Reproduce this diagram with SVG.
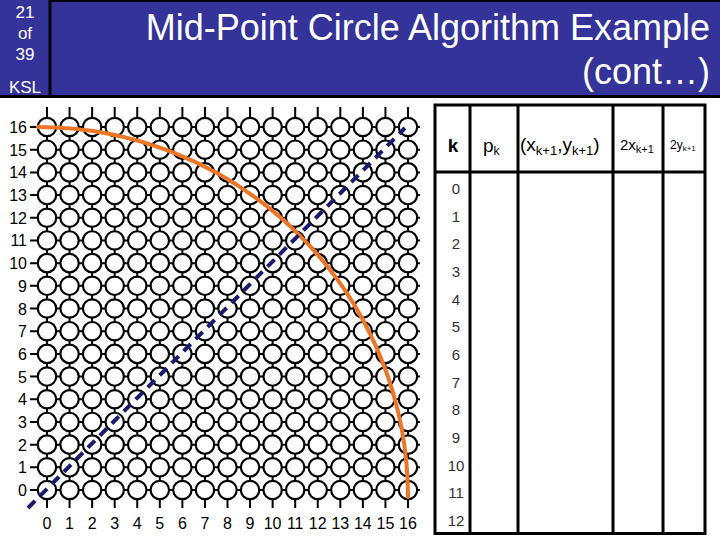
<svg xmlns="http://www.w3.org/2000/svg" xmlns:xlink="http://www.w3.org/1999/xlink" width="720" height="540" viewBox="0 0 720 540">
<style>
  text { font-family: "Liberation Sans", Arial, sans-serif; }
  .hdr { fill: #ffffff; }
  .side { fill: #ffffff; font-size: 17px; text-anchor: middle; }
  .ax { font-size: 16px; fill: #000; }
  .grid { stroke: #000; stroke-width: 2; fill: none; }
  .dot { fill: #fff; stroke: #000; stroke-width: 2.2; }
  .tb { stroke: #000; stroke-width: 3; fill: none; }
  .num { font-size: 15px; fill: #333; text-anchor: middle; }
</style>
<defs>
  <g id="row">
    <circle class="dot" cx="47" cy="0" r="9.2"/>
    <circle class="dot" cx="69.56" cy="0" r="9.2"/>
    <circle class="dot" cx="92.13" cy="0" r="9.2"/>
    <circle class="dot" cx="114.69" cy="0" r="9.2"/>
    <circle class="dot" cx="137.25" cy="0" r="9.2"/>
    <circle class="dot" cx="159.81" cy="0" r="9.2"/>
    <circle class="dot" cx="182.38" cy="0" r="9.2"/>
    <circle class="dot" cx="204.94" cy="0" r="9.2"/>
    <circle class="dot" cx="227.5" cy="0" r="9.2"/>
    <circle class="dot" cx="250.06" cy="0" r="9.2"/>
    <circle class="dot" cx="272.63" cy="0" r="9.2"/>
    <circle class="dot" cx="295.19" cy="0" r="9.2"/>
    <circle class="dot" cx="317.75" cy="0" r="9.2"/>
    <circle class="dot" cx="340.31" cy="0" r="9.2"/>
    <circle class="dot" cx="362.88" cy="0" r="9.2"/>
    <circle class="dot" cx="385.44" cy="0" r="9.2"/>
    <circle class="dot" cx="408" cy="0" r="9.2"/>
  </g>
</defs>
<rect width="720" height="540" fill="#fff"/>

<g id="header">
  <rect x="0" y="0" width="720" height="97" fill="#333399"/>
  <line x1="50" y1="1" x2="720" y2="1" stroke="#000" stroke-width="2"/>
  <line x1="50" y1="0" x2="50" y2="97" stroke="#000" stroke-width="3"/>
  <line x1="0" y1="96.5" x2="720" y2="96.5" stroke="#000" stroke-width="3"/>
  <text class="side" x="25" y="18">21</text>
  <text class="side" x="25" y="39">of</text>
  <text class="side" x="25" y="60">39</text>
  <text class="side" x="25" y="93">KSL</text>
  <text class="hdr" x="710" y="40" font-size="36" text-anchor="end">Mid-Point Circle Algorithm Example</text>
  <text class="hdr" x="710" y="84" font-size="36" text-anchor="end">(cont…)</text>
</g>

<g id="grid">
  <path class="grid" d="M30,127H420M30,149.69H420M30,172.38H420M30,195.06H420M30,217.75H420M30,240.44H420M30,263.13H420M30,285.81H420M30,308.5H420M30,331.19H420M30,353.88H420M30,376.56H420M30,399.25H420M30,421.94H420M30,444.63H420M30,467.31H420M30,490H420
  M47,107V508M69.56,107V508M92.13,107V508M114.69,107V508M137.25,107V508M159.81,107V508M182.38,107V508M204.94,107V508M227.5,107V508M250.06,107V508M272.63,107V508M295.19,107V508M317.75,107V508M340.31,107V508M362.88,107V508M385.44,107V508M408,107V508"/>
  <use href="#row" xlink:href="#row" y="127"/>
  <use href="#row" xlink:href="#row" y="149.69"/>
  <use href="#row" xlink:href="#row" y="172.38"/>
  <use href="#row" xlink:href="#row" y="195.06"/>
  <use href="#row" xlink:href="#row" y="217.75"/>
  <use href="#row" xlink:href="#row" y="240.44"/>
  <use href="#row" xlink:href="#row" y="263.13"/>
  <use href="#row" xlink:href="#row" y="285.81"/>
  <use href="#row" xlink:href="#row" y="308.5"/>
  <use href="#row" xlink:href="#row" y="331.19"/>
  <use href="#row" xlink:href="#row" y="353.88"/>
  <use href="#row" xlink:href="#row" y="376.56"/>
  <use href="#row" xlink:href="#row" y="399.25"/>
  <use href="#row" xlink:href="#row" y="421.94"/>
  <use href="#row" xlink:href="#row" y="444.63"/>
  <use href="#row" xlink:href="#row" y="467.31"/>
  <use href="#row" xlink:href="#row" y="490"/>
</g>

<g id="y-labels" class="ax" text-anchor="end">
  <text class="ax" x="27" y="133">16</text>
  <text class="ax" x="27" y="155.69">15</text>
  <text class="ax" x="27" y="178.38">14</text>
  <text class="ax" x="27" y="201.06">13</text>
  <text class="ax" x="27" y="223.75">12</text>
  <text class="ax" x="27" y="246.44">11</text>
  <text class="ax" x="27" y="269.13">10</text>
  <text class="ax" x="27" y="291.81">9</text>
  <text class="ax" x="27" y="314.5">8</text>
  <text class="ax" x="27" y="337.19">7</text>
  <text class="ax" x="27" y="359.88">6</text>
  <text class="ax" x="27" y="382.56">5</text>
  <text class="ax" x="27" y="405.25">4</text>
  <text class="ax" x="27" y="427.94">3</text>
  <text class="ax" x="27" y="450.63">2</text>
  <text class="ax" x="27" y="473.31">1</text>
  <text class="ax" x="27" y="496">0</text>
</g>

<g id="x-labels" text-anchor="middle">
  <text class="ax" x="47" y="529">0</text>
  <text class="ax" x="69.56" y="529">1</text>
  <text class="ax" x="92.13" y="529">2</text>
  <text class="ax" x="114.69" y="529">3</text>
  <text class="ax" x="137.25" y="529">4</text>
  <text class="ax" x="159.81" y="529">5</text>
  <text class="ax" x="182.38" y="529">6</text>
  <text class="ax" x="204.94" y="529">7</text>
  <text class="ax" x="227.5" y="529">8</text>
  <text class="ax" x="250.06" y="529">9</text>
  <text class="ax" x="272.63" y="529">10</text>
  <text class="ax" x="295.19" y="529">11</text>
  <text class="ax" x="317.75" y="529">12</text>
  <text class="ax" x="340.31" y="529">13</text>
  <text class="ax" x="362.88" y="529">14</text>
  <text class="ax" x="385.44" y="529">15</text>
  <text class="ax" x="408" y="529">16</text>
</g>

<g id="curves">
  <path d="M38,127 A370,370 0 0 1 408,497" fill="none" stroke="#ec7625" stroke-width="4" stroke-linecap="round"/>
  <line x1="28" y1="508" x2="405" y2="128" stroke="#1a1a70" stroke-width="4" stroke-dasharray="10 7"/>
</g>

<g id="table">
  <rect class="tb" x="435" y="105" width="270" height="428.5"/>
  <path class="tb" d="M470,105V533.5M518,105V533.5M613,105V533.5M663,105V533.5M435,172H705"/>
  <text x="453" y="152" font-size="19" font-weight="bold" text-anchor="middle">k</text>
  <text x="483" y="152" font-size="19">p<tspan font-size="12" dy="3">k</tspan></text>
  <text x="520" y="151" font-size="19">(x<tspan font-size="13" dy="4">k+1</tspan><tspan dy="-4">,y</tspan><tspan font-size="13" dy="4">k+1</tspan><tspan dy="-4">)</tspan></text>
  <text x="620" y="150" font-size="15">2x<tspan font-size="11" dy="3">k+1</tspan></text>
  <text x="670" y="149" font-size="12">2y<tspan font-size="8" dy="2">k+1</tspan></text>
  <text class="num" x="456" y="194">0</text>
  <text class="num" x="456" y="221.67">1</text>
  <text class="num" x="456" y="249.33">2</text>
  <text class="num" x="456" y="277">3</text>
  <text class="num" x="456" y="304.67">4</text>
  <text class="num" x="456" y="332.33">5</text>
  <text class="num" x="456" y="360">6</text>
  <text class="num" x="456" y="387.67">7</text>
  <text class="num" x="456" y="415.33">8</text>
  <text class="num" x="456" y="443">9</text>
  <text class="num" x="456" y="470.67">10</text>
  <text class="num" x="456" y="498.33">11</text>
  <text class="num" x="456" y="526">12</text>
</g>
</svg>
